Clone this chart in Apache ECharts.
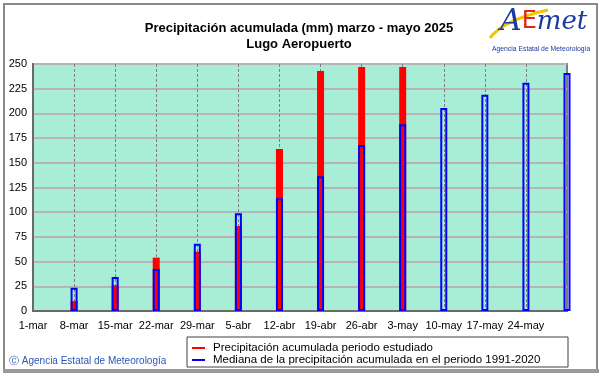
<!DOCTYPE html>
<html>
<head>
<meta charset="utf-8">
<script src="https://cdn.jsdelivr.net/npm/echarts@6/dist/echarts.min.js"></script>
<style>
html,body{margin:0;padding:0;background:#fff;}
#chart{width:601px;height:374px;}
</style>
</head>
<body>
<div id="chart"></div>
<script>
// ---- data ----
var categories = ['1-mar','8-mar','15-mar','22-mar','29-mar','5-abr','12-abr','19-abr','26-abr','3-may','10-may','17-may','24-may','31-may'];
var yTicks = [0,25,50,75,100,125,150,175,200,225,250];
var precip2025 = [null,10,26,54,60,86,164,243,247,247,null,null,null,null];
var median1991_2020 = [null,23.5,34.5,42.5,68,99,114,136.5,168,189,205.5,219,231,241];
var seriesNames = ['Precipitación acumulada periodo estudiado','Mediana de la precipitación acumulada en el periodo 1991-2020'];
var titleLines = ['Precipitación acumulada (mm) marzo - mayo 2025','Lugo Aeropuerto'];

var chart = echarts.init(document.getElementById('chart'), null, {renderer:'canvas'});
var FONT = 'Liberation Sans, Arial, sans-serif';

chart.setOption({
  animation:false,
  backgroundColor:'#ffffff',
  title:{
    text: titleLines.join('\n'),
    left: 294, top: 15, textAlign:'center',
    textStyle:{fontFamily:FONT,fontSize:13,fontWeight:'bold',color:'#000',lineHeight:16}
  },
  grid:{left:33,right:34,top:64,bottom:63,show:true,backgroundColor:'#a8eed6',borderColor:'#7a7a7a',borderWidth:2},
  legend:{
    orient:'vertical', left:192, top:342, itemGap:0,
    itemWidth:13, itemHeight:2, padding:0,
    textStyle:{fontFamily:FONT,fontSize:11.5,color:'#000',lineHeight:11,padding:[0,0,0,3]},
    data:[
      {name:seriesNames[0],icon:'rect',itemStyle:{color:'#ff0000',borderWidth:0}},
      {name:seriesNames[1],icon:'rect',itemStyle:{color:'#0000ff',borderWidth:0}}
    ]
  },
  xAxis:{
    type:'category', data:categories, boundaryGap:false,
    axisLine:{show:true,lineStyle:{color:'#6a6a6a',width:2}},
    axisTick:{show:false},
    axisLabel:{fontFamily:FONT,fontSize:11,color:'#000',margin:9,
      interval:0,
      formatter:function(v,i){return i===categories.length-1?'':v;}},
    splitLine:{show:true,interval:0,lineStyle:{color:'#808080',type:[3,2],width:1}}
  },
  yAxis:{
    type:'value', min:yTicks[0], max:yTicks[yTicks.length-1], interval:25,
    axisLine:{show:true,lineStyle:{color:'#6a6a6a',width:2}},
    axisTick:{show:false},
    axisLabel:{fontFamily:FONT,fontSize:11,color:'#000',margin:6},
    splitLine:{show:true,lineStyle:{color:'#b6b4ba',width:2}}
  },
  series:[
    {name:seriesNames[0],type:'bar',data:precip2025,barWidth:7,barGap:'-100%',
     itemStyle:{color:'#ff0000'},z:2},
    {name:seriesNames[1],type:'bar',data:median1991_2020,barWidth:7,barGap:'-100%',
     itemStyle:{color:'rgba(0,0,0,0)',borderColor:'#0000ff',borderWidth:2},z:3}
  ],
  graphic:[
    {type:'rect',shape:{x:4,y:4,width:593,height:366},style:{fill:null,stroke:'#8a8a8a',lineWidth:2},z:0,silent:true},
    {type:'rect',shape:{x:3,y:369,width:596,height:4},style:{fill:'#9a9a9a'},z:0,silent:true},
    {type:'rect',shape:{x:187,y:337,width:381,height:30},style:{fill:null,stroke:'#404040',lineWidth:1},z:0,silent:true},
    {type:'text',left:9,top:356,style:{text:'Ⓒ Agencia Estatal de Meteorología',fontFamily:FONT,fontSize:10,fill:'#2a55b5'}},
    // logo
    {type:'bezierCurve',shape:{x1:490,y1:38,x2:548,y2:10,cpx1:502,cpy1:22,cpx2:530,cpy2:14},style:{stroke:'#f5c400',lineWidth:3,fill:null}},
    {type:'text',left:500,top:7,style:{
      text:'{a|A}{e|E}{m|met}',
      rich:{
        a:{fontFamily:'DejaVu Serif',fontStyle:'italic',fontSize:30,fill:'#1a3aa0'},
        e:{fontFamily:'DejaVu Sans',fontSize:24,fill:'#e02818'},
        m:{fontFamily:'DejaVu Serif',fontStyle:'italic',fontSize:26,fill:'#1a3aa0'}
      }}},
    {type:'text',left:492,top:46,style:{text:'Agencia Estatal de Meteorología',fontFamily:FONT,fontSize:6.8,fill:'#1a3aa0'}}
  ]
});
</script>
</body>
</html>
